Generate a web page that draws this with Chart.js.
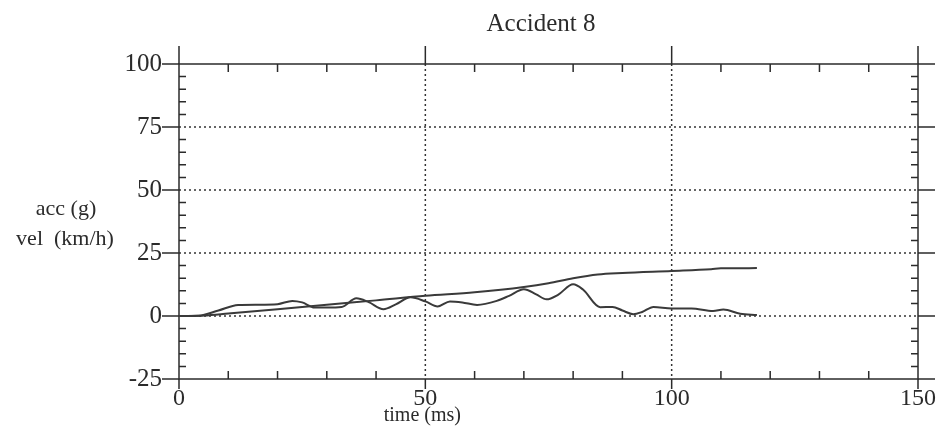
<!DOCTYPE html>
<html>
<head>
<meta charset="utf-8">
<script src="https://cdn.jsdelivr.net/npm/chart.js@4.4.1/dist/chart.umd.min.js"></script>
<style>
  html, body { margin: 0; padding: 0; background: #fff; }
  #wrap { width: 945px; height: 436px; }
</style>
</head>
<body>
<div id="wrap"><canvas id="accChart" width="945" height="436"></canvas></div>
<script>
// Chart text
const chartTitle = "Accident 8";
const xTitle = "time (ms)";
const yTitleLines = ["acc (g)", "vel  (km/h)"];

// Axis ticks
const xMajorTicks = [0, 50, 100, 150];
const xMinorTicks = [10, 20, 30, 40, 60, 70, 80, 90, 110, 120, 130, 140];
const yMajorTicks = [-25, 0, 25, 50, 75, 100];
const yMinorStep = 5;

// Acceleration (g) trace
const accTime = [0, 4, 8, 12, 16, 20, 23, 25, 27.5, 30, 33, 36, 38.5, 41.5, 44, 47, 50, 52.5, 55, 57.5,
  60.5, 64.5, 67, 70, 72.5, 74.6, 77, 80, 82, 85.5, 88, 90, 92.2, 94, 96.3, 100, 104, 108.4, 110.5, 113.9, 117.3];
const accValues = [0, 0.1, 2.2, 4.4, 4.5, 4.7, 6.0, 5.4, 3.4, 3.4, 3.6, 7.0, 5.5, 2.7, 4.6, 7.4, 5.8, 3.8, 5.8, 5.4,
  4.4, 6.0, 8.0, 10.6, 8.6, 6.6, 8.5, 12.6, 10.5, 3.5, 3.6, 2.2, 0.7, 1.6, 3.6, 3.0, 3.0, 2.0, 2.6, 0.9, 0.4];

// Velocity (km/h) trace
const velTime = [0, 5, 10, 20, 30, 40, 50, 60, 70, 75, 80, 85, 90, 100, 108, 110, 117.3];
const velValues = [0, 0.2, 1.0, 2.7, 4.5, 6.2, 8.0, 9.4, 11.5, 13.0, 15.0, 16.5, 17.1, 17.9, 18.6, 18.9, 19.0];

const ink = "#2b2b2b";
const serif = "'Liberation Serif', 'DejaVu Serif', serif";

function toPoints(xs, ys) {
  return xs.map((x, i) => ({ x: x, y: ys[i] }));
}

// frame, dotted grid, tick marks and free text
const framePlugin = {
  id: "frame",
  beforeDatasetsDraw(chart) {
    const { ctx, chartArea: a, scales: { x, y } } = chart;
    ctx.save();

    // dotted grid
    ctx.strokeStyle = "#333";
    ctx.lineWidth = 1.5;
    ctx.setLineDash([2, 3]);
    [0, 25, 50, 75].forEach(v => {
      const py = y.getPixelForValue(v);
      ctx.beginPath(); ctx.moveTo(a.left, py); ctx.lineTo(a.right, py); ctx.stroke();
    });
    [50, 100].forEach(v => {
      const px = x.getPixelForValue(v);
      ctx.beginPath(); ctx.moveTo(px, a.top); ctx.lineTo(px, a.bottom); ctx.stroke();
    });
    ctx.setLineDash([]);

    // box
    ctx.strokeStyle = ink;
    ctx.lineWidth = 1.5;
    ctx.strokeRect(a.left, a.top, a.right - a.left, a.bottom - a.top);

    // y major ticks, outward on both sides
    yMajorTicks.forEach(v => {
      const py = y.getPixelForValue(v);
      ctx.beginPath();
      ctx.moveTo(a.left - 17, py); ctx.lineTo(a.left, py);
      ctx.moveTo(a.right, py); ctx.lineTo(a.right + 17, py);
      ctx.stroke();
    });
    // y minor ticks, inward
    for (let v = -25 + yMinorStep; v < 100; v += yMinorStep) {
      if (v % 25 === 0) continue;
      const py = y.getPixelForValue(v);
      ctx.beginPath();
      ctx.moveTo(a.left, py); ctx.lineTo(a.left + 7, py);
      ctx.moveTo(a.right, py); ctx.lineTo(a.right - 7, py);
      ctx.stroke();
    }
    // x major ticks, outward top and bottom
    xMajorTicks.forEach(v => {
      const px = x.getPixelForValue(v);
      ctx.beginPath();
      ctx.moveTo(px, a.top - 18); ctx.lineTo(px, a.top);
      ctx.moveTo(px, a.bottom); ctx.lineTo(px, a.bottom + 10);
      ctx.stroke();
    });
    // x minor ticks, inward
    xMinorTicks.forEach(v => {
      const px = x.getPixelForValue(v);
      ctx.beginPath();
      ctx.moveTo(px, a.top); ctx.lineTo(px, a.top + 8);
      ctx.moveTo(px, a.bottom); ctx.lineTo(px, a.bottom - 8);
      ctx.stroke();
    });

    // texts
    ctx.fillStyle = ink;
    ctx.textAlign = "center";
    ctx.textBaseline = "alphabetic";
    ctx.font = "25px " + serif;
    ctx.fillText(chartTitle, 541, 31);

    ctx.font = "20px " + serif;
    ctx.fillText(xTitle, x.getPixelForValue(50) - 3, 421);

    ctx.font = "22px " + serif;
    ctx.fillText(yTitleLines[0], 66, 215);
    ctx.fillText(yTitleLines[1], 65, 245);
    ctx.restore();
  }
};

const ctx = document.getElementById("accChart").getContext("2d");
new Chart(ctx, {
  type: "scatter",
  data: {
    datasets: [
      {
        label: "acc (g)",
        data: toPoints(accTime, accValues),
        showLine: true,
        borderColor: "#3a3a3a",
        borderWidth: 2,
        pointRadius: 0,
        tension: 0.4,
        cubicInterpolationMode: "monotone"
      },
      {
        label: "vel (km/h)",
        data: toPoints(velTime, velValues),
        showLine: true,
        borderColor: "#3a3a3a",
        borderWidth: 2,
        pointRadius: 0,
        tension: 0.3,
        cubicInterpolationMode: "monotone"
      }
    ]
  },
  options: {
    responsive: false,
    animation: false,
    layout: { padding: { top: 64, right: 27, bottom: 0, left: 0 } },
    scales: {
      x: {
        type: "linear",
        min: 0,
        max: 150,
        afterFit: (scale) => { scale.height = 57; },
        afterBuildTicks: (scale) => { scale.ticks = xMajorTicks.map(v => ({ value: v })); },
        grid: { display: false, drawTicks: false },
        border: { display: false },
        ticks: { color: ink, font: { family: serif, size: 24 }, padding: 5, maxRotation: 0 }
      },
      y: {
        type: "linear",
        min: -25,
        max: 100,
        afterFit: (scale) => { scale.width = 179; },
        afterBuildTicks: (scale) => { scale.ticks = yMajorTicks.map(v => ({ value: v })); },
        grid: { display: false, drawTicks: false },
        border: { display: false },
        ticks: { color: ink, font: { family: serif, size: 25 }, padding: 17 }
      }
    },
    plugins: {
      legend: { display: false },
      tooltip: { enabled: false },
      title: { display: false }
    }
  },
  plugins: [framePlugin]
});
</script>
</body>
</html>
